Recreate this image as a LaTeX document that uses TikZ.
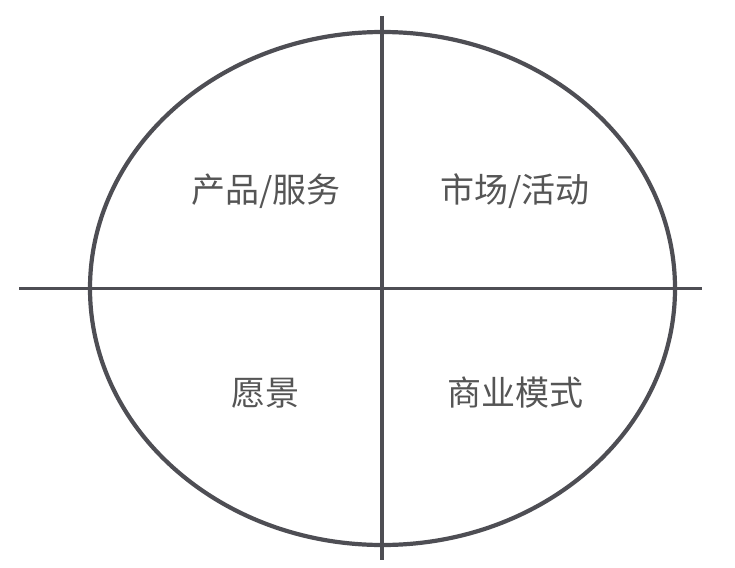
\documentclass[tikz,border=0pt]{standalone}
\usepackage{fontspec}
\newfontfamily\cjk{Noto Sans CJK SC}
\definecolor{pencil}{RGB}{78,78,84}
\definecolor{labelgray}{RGB}{85,85,85}
\begin{document}
\begin{tikzpicture}[x=1pt,y=-1pt,
  outline/.style={draw=pencil,line width=4.2pt},
  axis/.style={draw=pencil,line width=3.3pt},
  label/.style={font=\cjk\fontsize{34}{40}\selectfont,text=labelgray,inner sep=0pt}]
\useasboundingbox (0,0) rectangle (735,567);
\coordinate (c) at (382.5,288.5);
\coordinate (hl) at (19,288.5);
\coordinate (hr) at (702,288.5);
\coordinate (vt) at (382,16);
\coordinate (vb) at (382,560);
\draw[outline] (c) ellipse [x radius=292.5pt, y radius=256.5pt];
\draw[axis] (hl) -- (hr);
\draw[axis] (vt) -- (vb);
\node[label] (prod) at (266,191) {产品/服务};
\node[label] (mkt) at (515,191) {市场/活动};
\node[label] (vis) at (265,393) {愿景};
\node[label] (biz) at (515,393) {商业模式};
\end{tikzpicture}
\end{document}
